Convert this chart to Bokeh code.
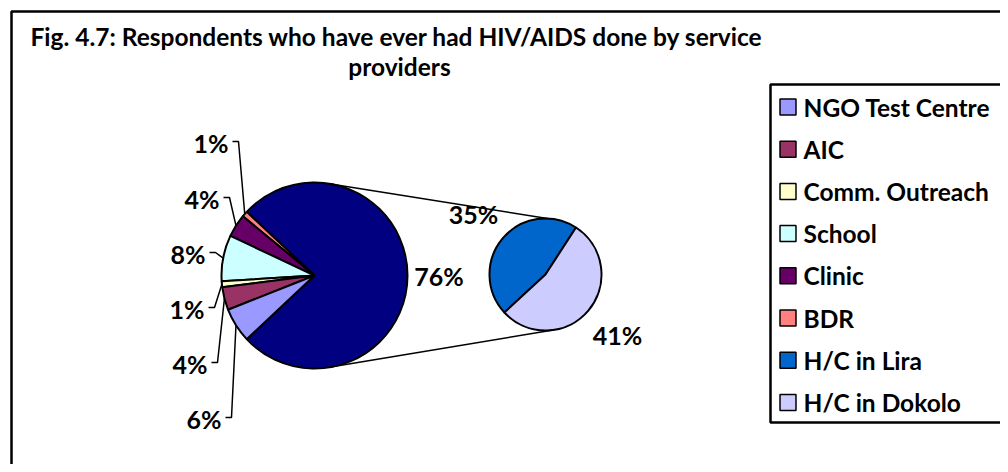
import numpy as np
from bokeh.plotting import figure
from bokeh.models import Range1d, ColumnDataSource
from bokeh.core.properties import value
from bokeh.embed import file_html
from bokeh.resources import INLINE

# ---------------- data ----------------
categories = ["NGO Test Centre", "AIC", "Comm. Outreach", "School", "Clinic", "BDR",
              "H/C in Lira", "H/C in Dokolo"]
main_values = [6, 4, 1, 8, 4, 1]          # first six categories (main pie)
secondary_values = [35, 41]               # H/C in Lira, H/C in Dokolo (split pie)
colors = ["#9999FF", "#993366", "#FFFFCC", "#CCFFFF", "#660066", "#FF8080",
          "#0066CC", "#CCCCFF"]
other_color = "#000080"
title_lines = ["Fig. 4.7: Respondents who have ever had HIV/AIDS done by service",
               "providers"]

FONT = value("Lato")
W, H = 1000, 464


def Y(py):
    return H - py


p = figure(width=W, height=H, x_range=Range1d(0, W), y_range=Range1d(0, H),
           output_backend="svg", toolbar_location=None, min_border=0)
p.axis.visible = False
p.grid.visible = False
p.outline_line_color = None
p.background_fill_color = "white"

# outer frame
p.quad(left=[11], right=[1030], top=[Y(11)], bottom=[-30], fill_color=None,
       line_color="black", line_width=2.5)

# ---------------- main pie ----------------
cx, cy, r = 314, Y(275), 93
total = sum(main_values) + sum(secondary_values)
other = sum(secondary_values)
half = other / total * np.pi
starts, ends, cols = [-half], [half], [other_color]
mids = {}
a = half
for i in reversed(range(len(main_values))):
    span = main_values[i] / total * 2 * np.pi
    starts.append(a)
    ends.append(a + span)
    cols.append(colors[i])
    mids[i] = a + span / 2
    a += span
p.wedge(x=cx, y=cy, radius=r, start_angle=starts, end_angle=ends,
        fill_color=cols, line_color="black", line_width=2, direction="anticlock")

# ---------------- secondary pie ----------------
sx, sy, sr = 545, Y(274), 56
s_start = np.deg2rad(57)
ss, se = [], []
a = s_start
for v in secondary_values:
    span = v / other * 2 * np.pi
    ss.append(a)
    se.append(a + span)
    a += span
p.wedge(x=sx, y=sy, radius=sr, start_angle=ss, end_angle=se,
        fill_color=colors[6:8], line_color="black", line_width=2, direction="anticlock")

# connector lines
up_m, up_s = np.deg2rad(80), np.deg2rad(88)
lo_m, lo_s = np.deg2rad(-80), np.deg2rad(-82)
p.multi_line(xs=[[cx + r * np.cos(up_m), sx + sr * np.cos(up_s)],
                 [cx + r * np.cos(lo_m), sx + sr * np.cos(lo_s)]],
             ys=[[cy + r * np.sin(up_m), sy + sr * np.sin(up_s)],
                 [cy + r * np.sin(lo_m), sy + sr * np.sin(lo_s)]],
             line_color="black", line_width=1.5)

# ---------------- labels ----------------
lab_style = dict(text_font=FONT, text_font_style="bold", text_font_size="25px",
                 text_color="black", text_baseline="middle")

# big slice label
p.text(x=[cx + r + 31.5], y=[cy - 0.5], text=[f"{other}%"], text_align="center",
       **lab_style)

# secondary labels
sl_x, sl_y, sl_t = [], [], []
for k, v in enumerate(secondary_values):
    m = (ss[k] + se[k]) / 2
    sl_x.append(sx + 94 * np.cos(m))
    sl_y.append(sy + 94 * np.sin(m))
    sl_t.append(f"{v}%")
p.text(x=sl_x, y=sl_y, text=sl_t, text_align="center", **lab_style)

# small slice labels with leader lines: (tick start x, tick y) in page coords
label_pos = {5: (232, 141), 4: (223, 197), 3: (209, 252), 2: (208, 307),
             1: (211, 362), 0: (225, 417)}
lx, ly, lt, lxs, lys = [], [], [], [], []
for i, (tx, ty) in label_pos.items():
    m = mids[i]
    ex, ey = cx + r * np.cos(m), cy + r * np.sin(m)
    lxs.append([tx, tx + 6, ex])
    lys.append([Y(ty), Y(ty), ey])
    lx.append(tx - 4)
    ly.append(Y(ty + 1))
    lt.append(f"{main_values[i]}%")
p.multi_line(xs=lxs, ys=lys, line_color="black", line_width=1.5)
p.text(x=lx, y=ly, text=lt, text_align="right", **lab_style)

# ---------------- title ----------------
t_style = dict(text_font=FONT, text_font_style="bold", text_font_size="24.5px",
               text_color="black", text_baseline="middle")
p.text(x=[30], y=[Y(36)], text=[title_lines[0]], text_align="left", **t_style)
p.text(x=[399], y=[Y(66)], text=[title_lines[1]], text_align="center", **t_style)

# ---------------- legend ----------------
p.quad(left=[770], right=[1005], top=[Y(84)], bottom=[Y(422)], fill_color="white",
       line_color="black", line_width=2.5)
rows = [Y(106.5 + 42.2 * i) for i in range(len(categories))]
leg = ColumnDataSource(dict(x=[787.5] * len(categories), y=rows, c=colors,
                            tx=[803] * len(categories), t=categories))
p.scatter(x="x", y="y", marker="square", size=16, fill_color="c", line_color="black",
          line_width=1.5, source=leg)
p.text(x="tx", y="y", text="t", text_font=FONT, text_font_style="bold",
       text_font_size="24.5px", text_color="black", text_baseline="middle",
       text_align="left", source=leg)

open("out.html", "w").write(file_html(p, INLINE))
